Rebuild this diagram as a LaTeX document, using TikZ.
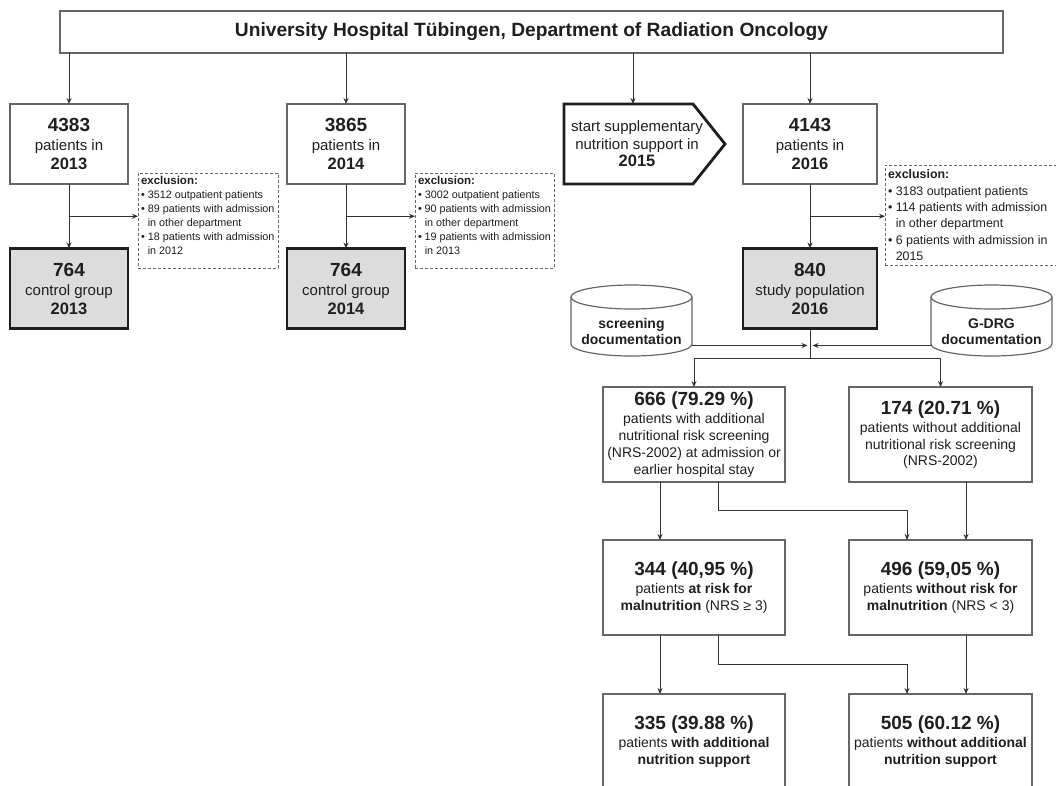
\documentclass[tikz,border=0pt]{standalone}
\usepackage{fontspec}
\setmainfont{Liberation Sans}
\usetikzlibrary{arrows.meta,calc}
\definecolor{lncol}{HTML}{333333}
\definecolor{bxcol}{HTML}{666666}
\definecolor{txcol}{HTML}{1F1F1F}
\definecolor{grcol}{HTML}{DCDCDC}
\definecolor{thkcol}{HTML}{1E1E1E}
\newcommand\numA[1]{{\fontsize{19}{19}\selectfont\bfseries #1}}
\newcommand\yrA[1]{{\fontsize{16.5}{16.5}\selectfont\bfseries #1}}
\newcommand\bl{\textbullet\ }
\newcommand\blph{\phantom{\textbullet\ }}
\begin{document}
\begin{tikzpicture}[x=1pt,y=-1pt,
  box/.style={draw=bxcol,line width=1.2pt,inner sep=0pt,outer sep=0pt,align=center,text=txcol},
  upbox/.style={box,minimum width=118pt,minimum height=80pt,font=\fontsize{15}{19}\selectfont},
  gbox/.style={upbox,draw=thkcol,fill=grcol,line width=2.7pt},
  lowbox/.style={box,minimum width=182pt,minimum height=95pt,font=\fontsize{14}{16.7}\selectfont},
  excl/.style={draw=bxcol,dash pattern=on 3pt off 2pt,line width=1pt,inner xsep=3pt,outer sep=0pt,anchor=north west,text=txcol},
  arr/.style={draw=lncol,line width=1pt,-{Stealth[length=6pt,width=5pt]}},
  plainln/.style={draw=lncol,line width=1pt},
  cyltxt/.style={font=\fontsize{14}{16}\selectfont\bfseries,align=center,text=txcol,inner sep=0pt},
]
\useasboundingbox (0,0) rectangle (1056,785);
\fill[white] (0,0) rectangle (1056,785);

% top
\node[box,minimum width=943pt,minimum height=42pt] (top) at (531.5,32)
  {\fontsize{19.2}{20}\selectfont\bfseries University Hospital Tübingen, Department of Radiation Oncology};

% year boxes
\node[upbox] (p13) at (69,144) {\numA{4383}\\patients in\\\yrA{2013}};
\node[upbox] (p14) at (346,144) {\numA{3865}\\patients in\\\yrA{2014}};
\node[upbox,minimum width=134pt] (p16) at (810,144) {\numA{4143}\\patients in\\\yrA{2016}};

% pentagon
\node[inner sep=0pt,outer sep=0pt,minimum width=146pt,minimum height=80pt,align=center,text=txcol,
      font=\fontsize{15}{17.5}\selectfont] (pent) at (637,144)
  {start supplementary\\nutrition support in\\\yrA{2015}};
\draw[draw=thkcol,line width=2.8pt,line join=miter]
  (pent.north west) -- ($(pent.north west)+(129,0)$) -- ($(pent.west)+(161,0)$)
  -- ($(pent.south west)+(129,0)$) -- (pent.south west) -- cycle;
\coordinate (pn) at ($(pent.north)+(-4,0)$);

% grey boxes
\node[gbox] (c13) at (69,288.5) {\numA{764}\\control group\\\yrA{2013}};
\node[gbox] (c14) at (346,288.5) {\numA{764}\\control group\\\yrA{2014}};
\node[gbox,minimum width=134pt] (study) at (810,288.5) {\numA{840}\\study population\\\yrA{2016}};

% exclusion boxes
\node[excl,inner ysep=3.5pt] (ex1) at (138,173)
  {\parbox[c][88pt][t]{134pt}{\raggedright\fontsize{10.8}{14}\selectfont
   {\fontsize{11.5}{14}\selectfont\bfseries exclusion:}\\
   \bl 3512 outpatient patients\\
   \bl 89 patients with admission\\
   \blph in other department\\
   \bl 18 patients with admission\\
   \blph in 2012}};
\node[excl,inner ysep=3.5pt] (ex2) at (415,173)
  {\parbox[c][88pt][t]{133pt}{\raggedright\fontsize{10.8}{14}\selectfont
   {\fontsize{11.5}{14}\selectfont\bfseries exclusion:}\\
   \bl 3002 outpatient patients\\
   \bl 90 patients with admission\\
   \blph in other department\\
   \bl 19 patients with admission\\
   \blph in 2013}};
\node[excl,inner ysep=5pt] (ex3) at (885,165)
  {\parbox[c][90pt][t]{190pt}{\raggedright\fontsize{12.4}{16.3}\selectfont
   {\fontsize{12.4}{16.3}\selectfont\bfseries exclusion:}\\
   \bl 3183 outpatient patients\\
   \bl 114 patients with admission\\
   \blph in other department\\
   \bl 6 patients with admission in\\
   \blph 2015}};

% cylinders
\node[inner sep=0pt,outer sep=0pt,minimum width=121pt,minimum height=71pt] (scr) at (631.5,320.5) {};
\node[inner sep=0pt,outer sep=0pt,minimum width=121pt,minimum height=71pt] (drg) at (991.5,320.5) {};
\foreach \c in {scr,drg}{
  \draw[draw=bxcol,line width=1.2pt] ($(\c.north)+(0,12)$) ellipse [x radius=60.5pt, y radius=12pt];
  \draw[draw=bxcol,line width=1.2pt] ($(\c.north west)+(0,12)$) -- ($(\c.south west)+(0,-12)$)
     arc[start angle=180,end angle=360,x radius=60.5pt,y radius=12pt] -- ($(\c.north east)+(0,12)$);
}
\node[cyltxt] (scrt) at ($(scr.center)+(0,11)$) {screening\\documentation};
\node[cyltxt] (drgt) at ($(drg.center)+(0,11)$) {G-DRG\\documentation};

% lower boxes
\node[lowbox] (b666) at (694,434.5) {\numA{666 (79.29 \%)}\\[1.5pt]patients with additional\\nutritional risk screening\\(NRS-2002) at admission or\\earlier hospital stay};
\node[lowbox,minimum width=183pt] (b174) at (940.5,434.5) {\numA{174 (20.71 \%)}\\[1.5pt]patients without additional\\nutritional risk screening\\(NRS-2002)};
\node[lowbox] (b344) at (694,587.5) {\numA{344 (40,95 \%)}\\[1.5pt]patients \textbf{at risk for}\\\textbf{malnutrition} (NRS ≥ 3)};
\node[lowbox,minimum width=183pt] (b496) at (940.5,587.5) {\numA{496 (59,05 \%)}\\[1.5pt]patients \textbf{without risk for}\\\textbf{malnutrition} (NRS < 3)};
\node[lowbox] (b335) at (694,741.5) {\numA{335 (39.88 \%)}\\[1.5pt]patients \textbf{with additional}\\\textbf{nutrition support}};
\node[lowbox,minimum width=183pt] (b505) at (940.5,741.5) {\numA{505 (60.12 \%)}\\[1.5pt]patients \textbf{without additional}\\\textbf{nutrition support}};

% connectors from top
\draw[arr] (p13.north |- top.south) -- (p13.north);
\draw[arr] (p14.north |- top.south) -- (p14.north);
\draw[arr] (pn |- top.south) -- (pn);
\draw[arr] (p16.north |- top.south) -- (p16.north);

% year -> grey, exclusion branches
\foreach \a/\b/\e in {p13/c13/ex1,p14/c14/ex2,p16/study/ex3}{
  \draw[arr] (\a.south) -- (\b.north);
  \coordinate (m\a) at ($(\a.south)!0.5!(\b.north)$);
  \draw[arr] (m\a) -- (\e.west |- m\a);
}

% documentation junction
\coordinate (j1) at ($(study.south)+(0,17)$);
\coordinate (j2) at ($(study.south)+(0,30)$);
\draw[plainln] (study.south) -- (j2);
\draw[arr] (scr.east |- j1) -- ($(j1)+(-2.5,0)$);
\draw[arr] (drg.west |- j1) -- ($(j1)+(2.5,0)$);
\draw[plainln] (b666.north |- j2) -- (b174.north |- j2);
\draw[arr] (b666.north |- j2) -- (b666.north);
\draw[arr] (b174.north |- j2) -- (b174.north);

% 666/174 -> 344/496
\coordinate (a1) at ($(b666.south)+(-34,0)$);
\coordinate (a2) at ($(b666.south)+(24,0)$);
\coordinate (a3) at ($(b174.south)+(-33.5,0)$);
\coordinate (a4) at ($(b174.south)+(25.5,0)$);
\draw[arr] (a1) -- (a1 |- b344.north);
\draw[arr] (a2) -- ($(a2)+(0,28)$) -| (a3 |- b496.north);
\draw[arr] (a4) -- (a4 |- b496.north);

% 344/496 -> 335/505
\coordinate (c1) at ($(b344.south)+(-34,0)$);
\coordinate (c2) at ($(b344.south)+(24,0)$);
\coordinate (c3) at ($(b496.south)+(-33.5,0)$);
\coordinate (c4) at ($(b496.south)+(25.5,0)$);
\draw[arr] (c1) -- (c1 |- b335.north);
\draw[arr] (c2) -- ($(c2)+(0,29)$) -| (c3 |- b505.north);
\draw[arr] (c4) -- (c4 |- b505.north);
\end{tikzpicture}
\end{document}
